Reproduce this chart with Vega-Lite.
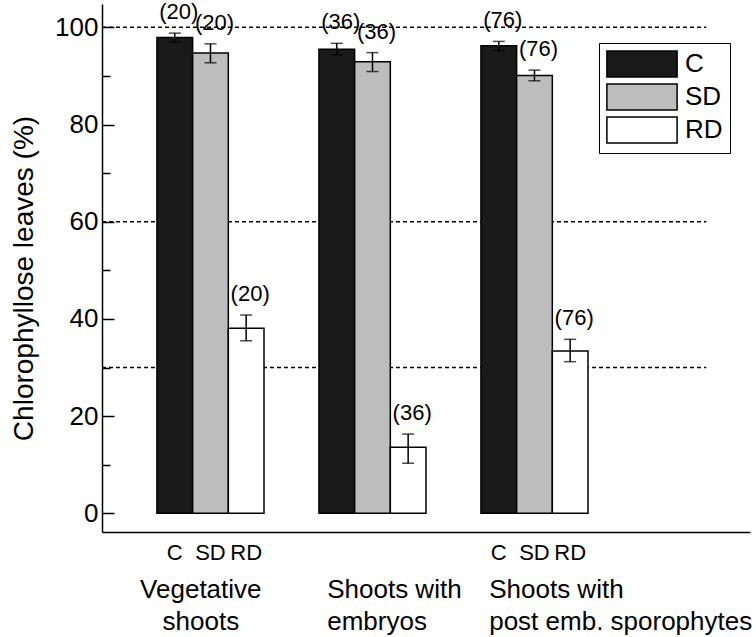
{
  "$schema": "https://vega.github.io/schema/vega-lite/v6.json",
  "autosize": "none",
  "width": 648,
  "height": 528,
  "padding": {"left": 102, "top": 4, "right": 6, "bottom": 105},
  "background": "white",
  "config": {
    "view": {"stroke": null},
    "font": "Liberation Sans",
    "text": {"font": "Liberation Sans", "color": "black"},
    "axisY": {
      "titleFont": "Liberation Sans",
      "titleFontSize": 28,
      "titleFontWeight": "normal",
      "titleColor": "black",
      "titlePadding": 16,
      "labelFont": "Liberation Sans",
      "labelFontSize": 26,
      "labelColor": "black",
      "labelPadding": 16,
      "tickColor": "black",
      "tickWidth": 1.5,
      "domainColor": "black",
      "domainWidth": 1.5,
      "grid": false
    }
  },
  "datasets": {
    "bars": [
      {"group": "Vegetative shoots", "cond": "C", "value": 97.9, "lower": 97.0, "upper": 98.8, "n": "(20)"},
      {"group": "Vegetative shoots", "cond": "SD", "value": 94.7, "lower": 92.7, "upper": 96.6, "n": "(20)"},
      {"group": "Vegetative shoots", "cond": "RD", "value": 38.1, "lower": 35.5, "upper": 40.8, "n": "(20)"},
      {"group": "Shoots with embryos", "cond": "C", "value": 95.5, "lower": 94.3, "upper": 96.7, "n": "(36)"},
      {"group": "Shoots with embryos", "cond": "SD", "value": 92.9, "lower": 90.9, "upper": 94.8, "n": "(36)"},
      {"group": "Shoots with embryos", "cond": "RD", "value": 13.6, "lower": 10.3, "upper": 16.3, "n": "(36)"},
      {"group": "Shoots with post emb. sporophytes", "cond": "C", "value": 96.2, "lower": 95.2, "upper": 97.1, "n": "(76)"},
      {"group": "Shoots with post emb. sporophytes", "cond": "SD", "value": 90.1, "lower": 89.0, "upper": 91.2, "n": "(76)"},
      {"group": "Shoots with post emb. sporophytes", "cond": "RD", "value": 33.4, "lower": 31.2, "upper": 35.8, "n": "(76)"}
    ],
    "refs": [{"y": 100}, {"y": 60}, {"y": 30}],
    "groups": [
      {"group": "Vegetative shoots", "label": "Vegetative\nshoots"},
      {"group": "Shoots with embryos", "label": "Shoots with\nembryos"},
      {"group": "Shoots with post emb. sporophytes", "label": "Shoots with\npost emb. sporophytes"}
    ]
  },
  "encoding": {
    "x": {
      "field": "group",
      "type": "nominal",
      "scale": {
        "domain": ["Vegetative shoots", "Shoots with embryos", "Shoots with post emb. sporophytes", "_"],
        "paddingInner": 0,
        "paddingOuter": 0
      },
      "axis": {
        "title": null,
        "labels": false,
        "ticks": false,
        "domain": true,
        "domainColor": "black",
        "domainWidth": 1.5,
        "grid": false
      }
    }
  },
  "layer": [
    {
      "data": {"name": "refs"},
      "mark": {"type": "rule", "strokeDash": [4, 3], "strokeWidth": 1.5, "color": "black"},
      "encoding": {
        "y": {
          "field": "y",
          "type": "quantitative",
          "scale": {"domain": [-3.85, 104.8], "nice": false, "zero": false},
          "axis": {
            "title": "Chlorophyllose leaves (%)",
            "titleY": 274,
            "values": [0, 10, 20, 30, 40, 50, 60, 70, 80, 90, 100],
            "labelExpr": "datum.value % 20 === 0 ? datum.label : ''",
            "labelFontSize": 26,
            "tickSize": {"condition": {"test": "datum.value % 20 === 0", "value": -12}, "value": -8}
          }
        },
        "x": {"datum": "Vegetative shoots", "bandPosition": 0},
        "x2": {"datum": "_", "bandPosition": 0.73}
      }
    },
    {
      "data": {"name": "bars"},
      "mark": {"type": "bar", "stroke": "black", "strokeWidth": 1.5},
      "encoding": {
        "y": {"field": "value", "type": "quantitative"},
        "xOffset": {
          "field": "cond",
          "type": "nominal",
          "scale": {"domain": ["C", "SD", "RD"], "paddingInner": 0, "paddingOuter": 0.77, "align": 1}
        },
        "color": {
          "field": "cond",
          "type": "nominal",
          "scale": {"domain": ["C", "SD", "RD"], "range": ["#1a1a1a", "#bdbdbd", "#ffffff"]},
          "legend": {
            "title": null,
            "orient": "none",
            "legendX": 497,
            "legendY": 39,
            "symbolType": "M-2.7,-1H2.7V1H-2.7Z",
            "symbolSize": 676,
            "symbolStrokeColor": "black",
            "symbolStrokeWidth": 1.5,
            "symbolOffset": 22,
            "labelOffset": 29,
            "labelAlign": "left",
            "labelFont": "Liberation Sans",
            "labelFontSize": 26,
            "labelColor": "black",
            "labelLimit": 0,
            "rowPadding": 1,
            "strokeColor": "black",
            "padding": 7
          }
        }
      }
    },
    {
      "data": {"name": "bars"},
      "mark": {"type": "rule", "color": "black", "strokeWidth": 1.5},
      "encoding": {
        "xOffset": {"field": "cond", "type": "nominal"},
        "y": {"field": "lower", "type": "quantitative"},
        "y2": {"field": "upper"}
      }
    },
    {
      "data": {"name": "bars"},
      "mark": {"type": "tick", "color": "black", "thickness": 1.5, "size": 12},
      "encoding": {
        "xOffset": {"field": "cond", "type": "nominal"},
        "y": {"field": "lower", "type": "quantitative"}
      }
    },
    {
      "data": {"name": "bars"},
      "mark": {"type": "tick", "color": "black", "thickness": 1.5, "size": 12},
      "encoding": {
        "xOffset": {"field": "cond", "type": "nominal"},
        "y": {"field": "upper", "type": "quantitative"}
      }
    },
    {
      "data": {"name": "bars"},
      "mark": {"type": "text", "fontSize": 22, "dy": -21, "dx": 4, "baseline": "middle"},
      "encoding": {
        "xOffset": {"field": "cond", "type": "nominal"},
        "y": {"field": "upper", "type": "quantitative"},
        "text": {"field": "n"}
      }
    },
    {
      "data": {"name": "bars"},
      "transform": [{"filter": "datum.group !== 'Shoots with embryos'"}],
      "mark": {"type": "text", "fontSize": 22, "dy": 28, "baseline": "alphabetic"},
      "encoding": {
        "xOffset": {"field": "cond", "type": "nominal"},
        "y": {"datum": -3.85},
        "text": {"field": "cond"}
      }
    },
    {
      "data": {"name": "groups"},
      "transform": [{"filter": "datum.group === 'Vegetative shoots'"}],
      "mark": {"type": "text", "fontSize": 26, "dy": 66, "baseline": "alphabetic", "align": "center", "lineBreak": "\n", "lineHeight": 32},
      "encoding": {
        "x": {"field": "group", "type": "nominal", "bandPosition": 0.61},
        "y": {"datum": -3.85},
        "text": {"field": "label"}
      }
    },
    {
      "data": {"name": "groups"},
      "transform": [{"filter": "datum.group !== 'Vegetative shoots'"}],
      "mark": {"type": "text", "fontSize": 26, "dy": 66, "baseline": "alphabetic", "align": "left", "lineBreak": "\n", "lineHeight": 32},
      "encoding": {
        "x": {"field": "group", "type": "nominal", "bandPosition": 0.39},
        "y": {"datum": -3.85},
        "text": {"field": "label"}
      }
    }
  ]
}
